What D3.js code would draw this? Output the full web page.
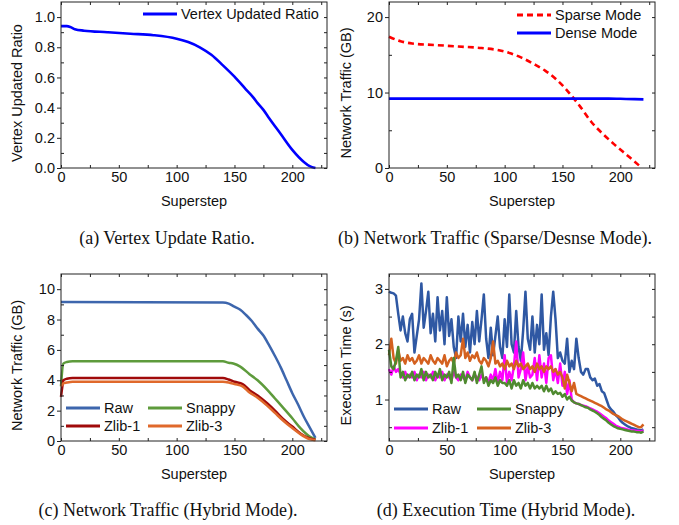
<!DOCTYPE html>
<html>
<head>
<meta charset="utf-8">
<script src="https://cdn.jsdelivr.net/npm/d3@7"></script>
<style>
  body { margin: 0; background: #fff; }
  text { font-family: "Liberation Sans", Arial, sans-serif; }
  .caption { font-family: "Liberation Serif", "Times New Roman", serif; font-size: 18px; }
</style>
</head>
<body>
<div id="container"></div>
<script>
/* DATA */
// (a) vertex updated ratio
const ratioSteps  = [0, 5, 8, 12, 20, 40, 60, 80, 100, 110, 120, 130, 140, 150, 160, 166, 170, 175, 180, 190, 200, 210, 215, 220];
const ratioValues = [0.94, 0.94, 0.935, 0.92, 0.91, 0.90, 0.89, 0.88, 0.857, 0.835, 0.80, 0.75, 0.68, 0.605, 0.52, 0.47, 0.43, 0.385, 0.33, 0.225, 0.12, 0.04, 0.012, 0.0];

// (b) sparse / dense mode traffic (GB)
const sparseSteps  = [0, 10, 20, 40, 60, 80, 95, 105, 115, 125, 135, 145, 155, 165, 175, 185, 195, 205, 212, 218];
const sparseValues = [17.4, 16.8, 16.5, 16.3, 16.1, 15.9, 15.6, 15.2, 14.6, 13.8, 12.9, 11.7, 10.1, 8.2, 6.1, 4.5, 3.1, 1.8, 0.9, 0.1];
const denseSteps   = [0, 100, 190, 205, 220];
const denseValues  = [9.2, 9.2, 9.2, 9.15, 9.1];

// (c) hybrid mode traffic (GB)
const rawSteps    = [0, 140, 145, 150, 155, 160, 165, 170, 175, 180, 185, 190, 195, 200, 205, 210, 215, 220];
const rawTraffic  = [9.15, 9.12, 9.05, 8.85, 8.65, 8.3, 7.9, 7.4, 6.95, 6.3, 5.6, 4.85, 4.0, 3.15, 2.4, 1.6, 0.9, 0.2];
const snapSteps   = [0, 2, 5, 10, 140, 145, 149, 155, 163, 170, 178, 185, 192, 200, 207, 215, 220];
const snapTraffic = [3.6, 5.1, 5.2, 5.25, 5.25, 5.15, 5.1, 4.9, 4.4, 4.0, 3.4, 2.8, 2.2, 1.5, 0.85, 0.3, 0.1];
const zlibSteps   = [0, 1, 2, 5, 10, 140, 145, 150, 157, 163, 170, 178, 185, 192, 200, 207, 214, 220];
const zlib1Traffic = [2.9, 3.5, 4.0, 4.1, 4.15, 4.15, 4.05, 3.9, 3.75, 3.35, 3.0, 2.5, 2.0, 1.45, 0.95, 0.5, 0.2, 0.08];
const zlib3Traffic = [3.6, 3.7, 3.8, 3.85, 3.9, 3.9, 3.85, 3.75, 3.6, 3.2, 2.85, 2.35, 1.85, 1.35, 0.85, 0.45, 0.15, 0.05];

// (d) hybrid mode execution time (s), one reading every 2 supersteps
const execSteps = d3.range(0, 221, 2);
const rawTime = [
  2.95,2.93,2.92,2.88,2.55,2.25,2.5,2.2,2.05,2.45,
  2.55,1.85,2.15,2.45,3.1,2.3,2.6,2.95,2.2,2.55,
  2.05,2.85,2.25,2.6,2.0,2.85,2.15,2.45,1.95,1.75,
  2.5,2.05,2.55,1.95,2.35,1.85,2.4,2.0,2.6,2.05,
  2.45,2.9,2.1,1.75,2.3,1.8,2.15,2.5,1.95,1.75,
  2.45,1.95,2.9,2.0,1.85,2.6,1.95,1.7,2.25,2.95,
  2.1,1.9,2.5,1.85,2.35,2.0,2.9,1.9,2.2,1.8,
  2.5,2.95,2.45,1.75,1.85,1.7,1.65,2.1,1.5,1.7,
  1.55,2.1,1.75,1.5,1.45,1.55,1.55,1.4,1.35,1.38,
  1.25,1.28,1.15,1.12,1.0,0.88,0.82,0.78,0.72,0.68,
  0.62,0.58,0.55,0.52,0.5,0.48,0.47,0.46,0.45,0.44,
  0.46];
const snappyTime = [
  1.9,1.6,1.55,1.7,1.95,1.4,1.5,1.35,1.45,1.4,
  1.5,1.35,1.45,1.4,1.55,1.35,1.5,1.4,1.45,1.35,
  1.5,1.4,1.55,1.35,1.45,1.4,1.5,1.3,1.75,1.4,
  1.45,1.35,1.5,1.3,1.45,1.4,1.35,1.5,1.3,1.45,
  1.6,1.3,1.4,1.25,1.35,1.3,1.4,1.25,1.35,1.3,
  1.3,1.25,1.35,1.2,1.35,1.25,1.3,1.2,1.35,1.25,
  1.3,1.2,1.3,1.2,1.25,1.2,1.25,1.15,1.25,1.15,
  1.2,1.1,1.15,1.1,1.12,1.05,1.1,1.0,1.05,0.98,
  0.95,0.93,0.92,0.9,0.88,0.86,0.85,0.82,0.8,0.78,
  0.75,0.72,0.68,0.65,0.62,0.58,0.55,0.52,0.5,0.48,
  0.47,0.46,0.45,0.44,0.43,0.42,0.42,0.41,0.41,0.40,
  0.42];
const zlib1Time = [
  1.55,1.45,1.6,1.5,1.55,1.45,1.4,1.5,1.4,1.45,
  1.4,1.5,1.35,1.45,1.4,1.5,1.35,1.45,1.4,1.5,
  1.35,1.45,1.4,1.5,1.35,1.45,1.4,1.35,1.5,1.4,
  1.35,1.45,1.4,1.35,1.5,1.4,1.35,1.45,1.4,1.35,
  1.45,1.35,1.4,1.3,1.45,1.35,1.55,1.3,1.5,1.35,
  1.8,1.3,1.5,1.35,1.6,2.05,1.4,1.55,1.85,1.35,
  1.6,1.4,1.45,1.75,1.35,1.8,1.4,1.65,1.3,1.75,
  1.8,1.35,1.55,1.3,1.65,1.25,1.5,1.1,1.35,1.0,
  0.95,0.93,0.92,0.9,0.89,0.88,0.86,0.84,0.82,0.8,
  0.78,0.75,0.72,0.69,0.66,0.62,0.59,0.56,0.53,0.51,
  0.49,0.48,0.47,0.46,0.45,0.44,0.44,0.43,0.43,0.42,
  0.44];
const zlib3Time = [
  1.8,2.1,1.75,1.65,1.9,1.7,1.75,1.65,1.8,1.7,
  1.75,1.65,1.7,1.8,1.65,1.75,1.7,1.65,1.8,1.7,
  1.65,1.75,1.7,1.65,1.8,1.6,1.7,1.75,1.65,1.85,
  1.75,1.8,2.1,1.75,1.85,1.7,1.8,1.75,1.85,1.7,
  1.65,1.75,1.7,1.6,1.75,2.05,1.65,1.7,1.6,1.65,
  1.55,1.7,1.6,1.65,1.55,1.7,1.6,1.65,1.55,1.6,
  1.65,1.55,1.6,1.5,1.65,1.55,1.6,1.5,1.6,1.55,
  1.6,1.5,1.55,1.45,1.5,1.4,1.2,1.45,1.3,1.15,
  1.3,1.1,1.08,1.06,1.04,1.02,1.0,0.98,0.96,0.94,
  0.92,0.9,0.88,0.85,0.82,0.8,0.77,0.74,0.72,0.7,
  0.67,0.64,0.62,0.6,0.58,0.56,0.54,0.52,0.5,0.5,
  0.55];

const xTicks = [0, 50, 100, 150, 200];

/* SVG */
const width = 679, height = 525;
const fontSize = "14.5px";
const svg = d3.select("#container").append("svg")
  .attr("width", width).attr("height", height);

function pairs(xs, ys) { return xs.map((x, i) => ({x: x, y: ys[i]})); }

function panel(opt) {
  const x = d3.scaleLinear().domain([0, 230]).range([opt.left, opt.right]);
  const y = d3.scaleLinear().domain(opt.yDomain).range([opt.bottom, opt.top]);
  const g = svg.append("g");

  // lines
  const line = d3.line().x(d => x(d.x)).y(d => y(d.y)).curve(opt.curve || d3.curveMonotoneX);
  opt.series.forEach(s => {
    g.append("path")
      .datum(pairs(s.xs, s.ys))
      .attr("fill", "none")
      .attr("stroke", s.color)
      .attr("stroke-width", s.width || 2.5)
      .attr("stroke-dasharray", s.dash || null)
      .attr("stroke-linejoin", "round")
      .attr("d", line);
  });

  // frame
  g.append("rect")
    .attr("x", opt.left).attr("y", opt.top)
    .attr("width", opt.right - opt.left).attr("height", opt.bottom - opt.top)
    .attr("fill", "none").attr("stroke", "#222").attr("stroke-width", 1);

  const minorX = d3.range(0, 230, 25);
  // bottom axis, ticks pointing in
  const bx = g.append("g").attr("transform", `translate(0,${opt.bottom})`)
    .call(d3.axisBottom(x).tickValues(minorX).tickSize(-3).tickPadding(4)
      .tickFormat(d => xTicks.includes(d) ? d : ""));
  // top axis
  const tx = g.append("g").attr("transform", `translate(0,${opt.top})`)
    .call(d3.axisTop(x).tickValues(minorX).tickSize(-3).tickFormat(""));
  // left axis major (out) + minor (in)
  const ly = g.append("g").attr("transform", `translate(${opt.left},0)`)
    .call(d3.axisLeft(y).tickValues(opt.yTicks).tickSize(4).tickPadding(2).tickFormat(opt.yFormat));
  const lm = g.append("g").attr("transform", `translate(${opt.left},0)`)
    .call(d3.axisLeft(y).tickValues(opt.yMinor).tickSize(-3).tickFormat(""));
  // right axis
  const ry = g.append("g").attr("transform", `translate(${opt.right},0)`)
    .call(d3.axisRight(y).tickValues(opt.yTicks.concat(opt.yMinor)).tickSize(-3).tickFormat(""));

  [bx, tx, ly, lm, ry].forEach(a => {
    a.select(".domain").remove();
    a.selectAll("line").attr("stroke", "#222");
    a.selectAll("text").style("font-size", fontSize).style("font-family", "Liberation Sans, Arial").attr("fill", "#111");
  });

  // titles
  g.append("text")
    .attr("x", (opt.left + opt.right) / 2).attr("y", opt.bottom + 38)
    .attr("text-anchor", "middle").style("font-size", fontSize).attr("fill", "#111")
    .text("Superstep");
  g.append("text")
    .attr("transform", `translate(${opt.yTitleX},${(opt.top + opt.bottom) / 2 + 8}) rotate(-90)`)
    .attr("text-anchor", "middle").attr("dy", "0.35em").style("font-size", fontSize).attr("fill", "#111")
    .text(opt.yTitle);
  g.append("text").attr("class", "caption")
    .attr("x", opt.capX).attr("y", opt.capY)
    .attr("text-anchor", "middle").attr("fill", "#111")
    .text(opt.caption);

  // legend
  opt.legend.forEach(l => {
    g.append("line")
      .attr("x1", l.x).attr("x2", l.x + 34).attr("y1", l.y).attr("y2", l.y)
      .attr("stroke", l.color).attr("stroke-width", 3)
      .attr("stroke-dasharray", l.dash || null);
    g.append("text")
      .attr("x", l.x + 38).attr("y", l.y).attr("dy", "0.35em")
      .style("font-size", fontSize).attr("fill", "#111")
      .text(l.name);
  });
}

/* (a) */
panel({
  left: 61, right: 327, top: 2, bottom: 168,
  yDomain: [0, 1.1], yTicks: [0, 0.2, 0.4, 0.6, 0.8, 1.0], yMinor: [0.1, 0.3, 0.5, 0.7, 0.9],
  yFormat: d3.format(".1f"),
  yTitle: "Vertex Updated Ratio", yTitleX: 17,
  caption: "(a) Vertex Update Ratio.", capX: 167, capY: 244,
  series: [{xs: ratioSteps, ys: ratioValues, color: "#0000ff", width: 2.6}],
  legend: [{x: 143, y: 14, color: "#0000ff", name: "Vertex Updated Ratio"}]
});

/* (b) */
panel({
  left: 389, right: 655, top: 2, bottom: 168,
  yDomain: [0, 22], yTicks: [0, 10, 20], yMinor: [5, 15],
  yFormat: d3.format("d"),
  yTitle: "Network Traffic (GB)", yTitleX: 346,
  caption: "(b) Network Traffic (Sparse/Desnse Mode).", capX: 495, capY: 244,
  series: [
    {xs: sparseSteps, ys: sparseValues, color: "#ff0000", width: 2.6, dash: "6,4"},
    {xs: denseSteps, ys: denseValues, color: "#0000ff", width: 2.6}
  ],
  legend: [
    {x: 517, y: 15, color: "#ff0000", dash: "6,4", name: "Sparse Mode"},
    {x: 517, y: 33, color: "#0000ff", name: "Dense Mode"}
  ]
});

/* (c) */
panel({
  left: 61, right: 327, top: 274, bottom: 441,
  yDomain: [0, 11], yTicks: [0, 2, 4, 6, 8, 10], yMinor: [1, 3, 5, 7, 9],
  yFormat: d3.format("d"),
  yTitle: "Network Traffic (GB)", yTitleX: 17,
  caption: "(c) Network Traffic (Hybrid Mode).", capX: 168, capY: 516,
  series: [
    {xs: rawSteps, ys: rawTraffic, color: "#3d66ad"},
    {xs: snapSteps, ys: snapTraffic, color: "#5e9b3c"},
    {xs: zlibSteps, ys: zlib1Traffic, color: "#a00a0a"},
    {xs: zlibSteps, ys: zlib3Traffic, color: "#e0692b"}
  ],
  legend: [
    {x: 66, y: 408, color: "#3d66ad", name: "Raw"},
    {x: 148, y: 408, color: "#5e9b3c", name: "Snappy"},
    {x: 66, y: 426, color: "#a00a0a", name: "Zlib-1"},
    {x: 148, y: 426, color: "#e0692b", name: "Zlib-3"}
  ]
});

/* (d) */
panel({
  left: 389, right: 655, top: 274, bottom: 441,
  yDomain: [0.25, 3.27], yTicks: [1, 2, 3], yMinor: [0.5, 1.5, 2.5],
  yFormat: d3.format("d"),
  yTitle: "Execution Time (s)", yTitleX: 346,
  caption: "(d) Execution Time (Hybrid Mode).", capX: 506, capY: 516,
  curve: d3.curveLinear,
  series: [
    {xs: execSteps, ys: rawTime, color: "#2f58a3"},
    {xs: execSteps, ys: zlib1Time, color: "#ff00ff"},
    {xs: execSteps, ys: zlib3Time, color: "#d4611f"},
    {xs: execSteps, ys: snappyTime, color: "#4f8a30"}
  ],
  legend: [
    {x: 394, y: 409, color: "#2f58a3", name: "Raw"},
    {x: 477, y: 409, color: "#4f8a30", name: "Snappy"},
    {x: 394, y: 428, color: "#ff00ff", name: "Zlib-1"},
    {x: 477, y: 428, color: "#d4611f", name: "Zlib-3"}
  ]
});
</script>
</body>
</html>
